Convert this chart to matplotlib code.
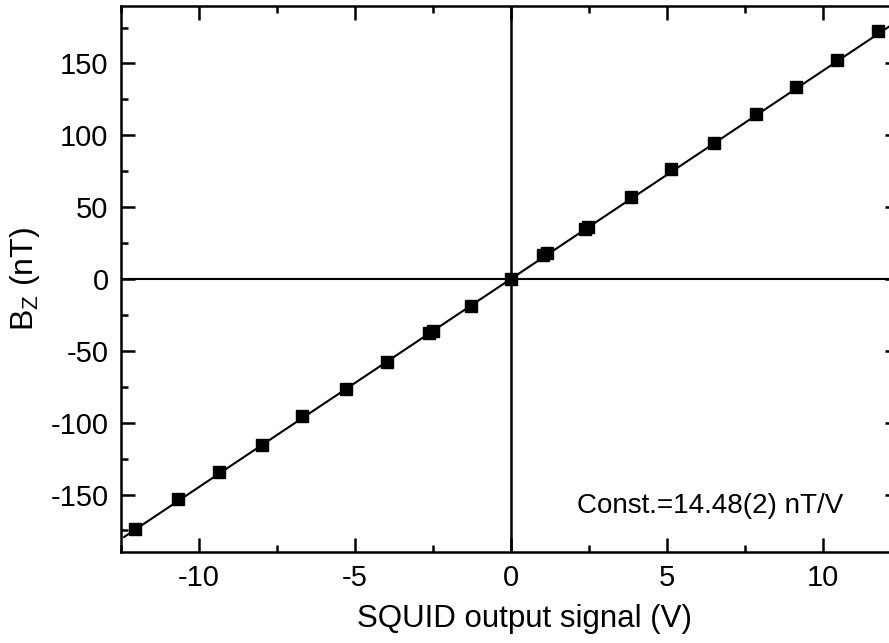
import matplotlib
matplotlib.use("Agg")
import matplotlib.pyplot as plt
import numpy as np
from matplotlib.ticker import MultipleLocator

plt.rcParams['font.family'] = ['Liberation Sans', 'DejaVu Sans']
plt.rcParams['axes.unicode_minus'] = False

# Data
signal_V = [-12.05, -10.66, -9.35, -7.99, -6.68, -5.30, -3.96, -2.62, -2.49, -1.28,
            0.0, 1.04, 1.15, 2.39, 2.48, 3.85, 5.15, 6.51, 7.85, 9.16, 10.46, 11.77]
bz_nT = [-174.3, -153.1, -134.4, -115.8, -95.1, -76.7, -58.1, -37.9, -36.1, -18.8,
         0.0, 16.4, 18.0, 34.5, 36.5, 57.4, 76.5, 94.6, 115.1, 133.7, 152.7, 172.9]
const = 14.48
fit_range = [-12.4, 12.45]
x_ticks = [-10, -5, 0, 5, 10]
y_ticks = [-150, -100, -50, 0, 50, 100, 150]

W, H = 889, 643
fig = plt.figure(figsize=(W / 100, H / 100), dpi=100)
l, r, b, t = 121, 899, 552, 6
ax = fig.add_axes([l / W, (H - b) / H, (r - l) / W, (b - t) / H])

ax.set_xlim(-12.5, 12.45)
ax.set_ylim(-190, 190)

ax.axhline(0, color='black', lw=1.5, zorder=1)
ax.axvline(0, color='black', lw=1.8, zorder=1)

xf = np.array(fit_range)
ax.plot(xf, const * xf, color='black', lw=1.5, zorder=2)
ax.plot(signal_V, bz_nT, ls='none', marker='s', ms=9, color='black', zorder=3)

ax.set_xticks(x_ticks)
ax.set_yticks(y_ticks)
ax.xaxis.set_minor_locator(MultipleLocator(2.5))
ax.yaxis.set_minor_locator(MultipleLocator(25))
ax.tick_params(which='both', direction='in', top=True, right=True, width=1.8)
ax.tick_params(which='major', length=10, labelsize=21, pad=9)
ax.tick_params(which='minor', length=5)
for s in ax.spines.values():
    s.set_linewidth(1.8)

ax.set_xlabel('SQUID output signal (V)', fontsize=22.5)
ax.xaxis.set_label_coords(0.519, -0.095, transform=ax.transAxes)
ax.xaxis.label.set_va('top')
ax.set_ylabel(r'B$_\mathregular{Z}$ (nT)', fontsize=23, labelpad=6)

txt = ax.text(0, 0, 'Const.=14.48(2) nT/V', fontsize=20, transform=None,
              ha='left', va='baseline')
txt.set_position((577, H - 513))

fig.savefig('out.png', dpi=100)
